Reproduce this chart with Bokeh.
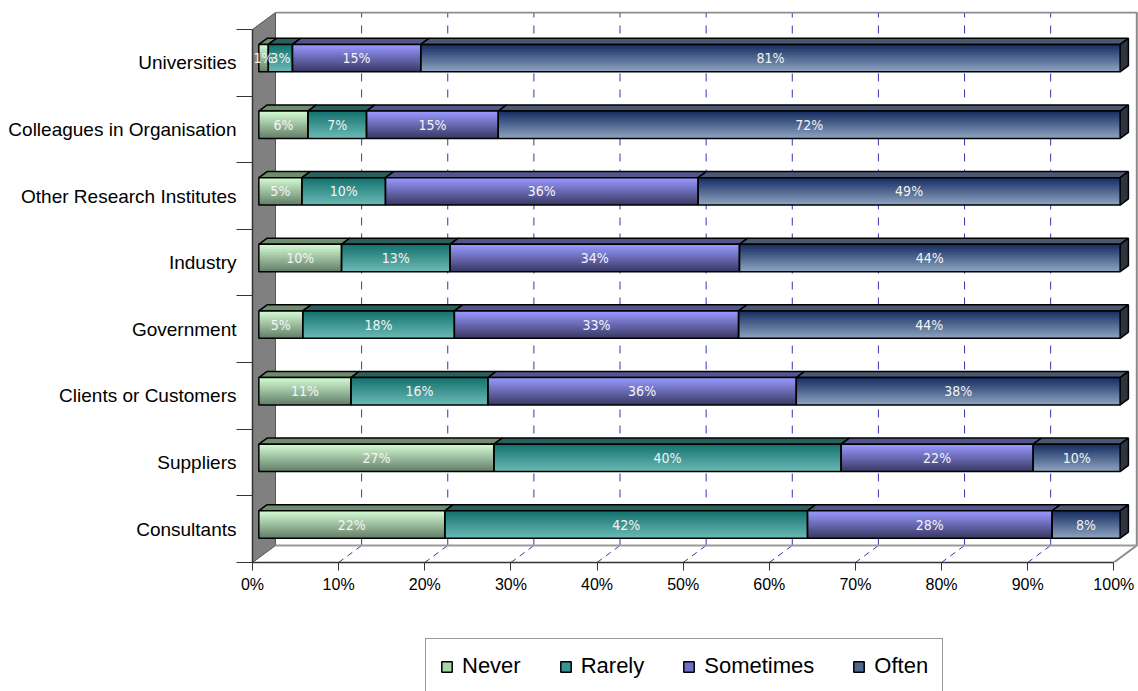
import numpy as np
from bokeh.plotting import figure
from bokeh.layouts import column
from bokeh.models import (Range1d, FixedTicker, PrintfTickFormatter, Legend,
                          LegendItem, ColumnDataSource)
from bokeh.core.properties import value
from bokeh.embed import file_html
from bokeh.resources import INLINE

# ---------------- data ----------------
categories = ["Consultants", "Suppliers", "Clients or Customers", "Government",
              "Industry", "Other Research Institutes",
              "Colleagues in Organisation", "Universities"]
series_names = ["Never", "Rarely", "Sometimes", "Often"]
never = [21.6, 27.3, 10.7, 5.1, 9.6, 5.0, 5.7, 1.1]
rarely = [42.1, 40.3, 15.9, 17.6, 12.6, 9.7, 6.8, 2.8]
sometimes = [28.4, 22.3, 35.8, 33.0, 33.6, 36.3, 15.3, 14.9]
often = [7.9, 10.1, 37.6, 44.3, 44.2, 49.0, 72.2, 81.2]
x_ticks = [0, 10, 20, 30, 40, 50, 60, 70, 80, 90, 100]

# ---------------- style ----------------
# (front gradient top, front gradient bottom, top face, legend swatch)
styles = [
    ("#d2fad2", "#66806a", "#6e8c6e", "#a8d8a8"),
    ("#15736f", "#6ab8b4", "#2b5f5c", "#3a9591"),
    ("#9898ff", "#3a3a66", "#55558e", "#7070c8"),
    ("#172f63", "#8ca2be", "#4a5872", "#4f6890"),
]
side_cap = "#2c3440"
BAR_FONT = "DejaVu Sans Condensed, Liberation Sans, sans-serif"

PX = 8.613   # px per percent
PY = 66.63   # px per category band
DX = 23 / PX     # depth offset (percent units)
DY = 17 / PY     # depth offset (band units)
DF, DB = 0.275, 0.635   # bar front / back depth fraction
BH = 0.411              # bar front height in bands
N = 18                  # gradient strips

FW, FH = 886, 551
p = figure(frame_width=FW, frame_height=FH,
           x_range=Range1d(0, FW / PX), y_range=Range1d(0, FH / PY),
           min_border_left=252, min_border_right=0, min_border_top=11,
           min_border_bottom=40, output_backend="svg", toolbar_location=None,
           background_fill_color="white", border_fill_color="white")
p.outline_line_color = None
p.grid.visible = False

ncat = len(categories)

# side wall
p.patch([0, DX, DX, 0], [0, DY, ncat + DY, ncat], fill_color="#808080",
        line_color="#555555", line_width=1)

# back-wall grid lines and floor grid lines
gx = [v for v in x_ticks if 0 < v < 100]
p.segment(x0=[v + DX for v in gx], y0=[DY] * len(gx),
          x1=[v + DX for v in gx], y1=[ncat + DY] * len(gx),
          line_color="#3434b0", line_width=1, line_dash="8 8")
p.segment(x0=gx, y0=[0] * len(gx), x1=[v + DX for v in gx], y1=[DY] * len(gx),
          line_color="#3434b0", line_width=1, line_dash="6 5")

# wall edges
p.line([DX, 100 + DX, 100 + DX, 100], [ncat + DY, ncat + DY, DY, 0],
       line_color="#8c8c8c", line_width=2)
p.line([DX, 100 + DX], [DY, DY], line_color="#9a9a9a", line_width=2)


def mix(c1, c2, t):
    a = [int(c1[i:i + 2], 16) for i in (1, 3, 5)]
    b = [int(c2[i:i + 2], 16) for i in (1, 3, 5)]
    return "#%02x%02x%02x" % tuple(int(round(a[j] + (b[j] - a[j]) * t)) for j in range(3))


values = [never, rarely, sometimes, often]
ddx = (DB - DF) * DX
ddy = (DB - DF) * DY

strips = dict(left=[], right=[], top=[], bottom=[], color=[])
outl = dict(left=[], right=[], top=[], bottom=[])
tops = dict(xs=[], ys=[], color=[])
caps = dict(xs=[], ys=[])
labs = dict(x=[], y=[], text=[])

for k in range(ncat):
    cum = 0.0
    yc = k + 0.5 + DF * DY
    yt, yb = yc + BH / 2, yc - BH / 2
    for s in range(4):
        v = values[s][k]
        L = cum + DF * DX
        R = cum + v + DF * DX
        c_top, c_bot, c_face, _ = styles[s]
        for i in range(N):
            strips["left"].append(L)
            strips["right"].append(R)
            strips["top"].append(yt - i * BH / N)
            strips["bottom"].append(yb)
            strips["color"].append(mix(c_top, c_bot, i / (N - 1)))
        outl["left"].append(L)
        outl["right"].append(R)
        outl["top"].append(yt)
        outl["bottom"].append(yb)
        tops["xs"].append([L, R, R + ddx, L + ddx])
        tops["ys"].append([yt, yt, yt + ddy, yt + ddy])
        tops["color"].append(c_face)
        labs["x"].append((L + R) / 2)
        labs["y"].append(yc)
        labs["text"].append("%d%%" % int(round(v)))
        cum += v
    caps["xs"].append([R, R + ddx, R + ddx, R])
    caps["ys"].append([yb, yb + ddy, yt + ddy, yt])

p.patches("xs", "ys", source=ColumnDataSource(tops), fill_color="color",
          line_color="black", line_width=1.5)
p.patches("xs", "ys", source=ColumnDataSource(caps), fill_color=side_cap,
          line_color="black", line_width=1.5)
p.quad(left="left", right="right", top="top", bottom="bottom",
       source=ColumnDataSource(strips), fill_color="color", line_color=None)
p.quad(left="left", right="right", top="top", bottom="bottom",
       source=ColumnDataSource(outl), fill_color=None, line_color="black",
       line_width=1.5)
p.text(x="x", y="y", text="text", source=ColumnDataSource(labs),
       text_color="#f4f4f4", text_align="center", text_baseline="middle",
       text_font=value(BAR_FONT), text_font_size="14px")

# ---------------- axes ----------------
xa = p.xaxis[0]
xa.ticker = FixedTicker(ticks=x_ticks)
xa.formatter = PrintfTickFormatter(format="%d%%")
xa.bounds = (0, 100)
xa.axis_line_color = "#333333"
xa.axis_line_width = 1.5
xa.major_tick_line_color = "#333333"
xa.major_tick_out = 8
xa.major_tick_in = 0
xa.minor_tick_line_color = None
xa.major_label_standoff = 5
xa.major_label_text_font = "Liberation Sans"
xa.major_label_text_font_size = "16px"
xa.major_label_text_color = "black"

ya = p.yaxis[0]
centers = [k + 0.5 for k in range(ncat)]
ya.ticker = FixedTicker(ticks=centers, minor_ticks=list(range(ncat + 1)))
ya.major_label_overrides = {c: n for c, n in zip(centers, categories)}
ya.bounds = (0, ncat)
ya.axis_line_color = "#333333"
ya.axis_line_width = 1.5
ya.major_tick_line_color = None
ya.major_tick_out = 0
ya.major_tick_in = 0
ya.minor_tick_line_color = "#333333"
ya.minor_tick_out = 16
ya.minor_tick_in = 0
ya.major_label_standoff = 0
ya.major_label_text_font = "Liberation Sans"
ya.major_label_text_font_size = "19px"
ya.major_label_text_color = "black"

# ---------------- legend strip (second figure below) ----------------
LH = 89
q = figure(width=1138, height=LH, x_range=Range1d(0, 1), y_range=Range1d(0, 1),
           x_axis_type=None, y_axis_type=None, output_backend="svg",
           toolbar_location=None, min_border=0, min_border_left=0,
           min_border_right=0, min_border_top=0, min_border_bottom=0)
q.outline_line_color = None
q.grid.visible = False
items = []
for s, name in enumerate(series_names):
    r = q.quad(left=[0], right=[0], top=[0], bottom=[0],
               fill_color=styles[s][3], line_color="black", line_width=1.5)
    r.visible = False
    items.append(LegendItem(label=name, renderers=[r]))
legend = Legend(items=items, orientation="horizontal", location=(173, -3),
                label_text_font="Liberation Sans", label_text_font_size="22px",
                label_text_color="black", glyph_width=13, glyph_height=13,
                label_standoff=9, spacing=38, padding=14, margin=0,
                border_line_color="#333333", border_line_width=1,
                background_fill_color="white", background_fill_alpha=1,
                inactive_fill_alpha=0)
q.add_layout(legend)

layout = column(p, q, spacing=0)
open("out.html", "w").write(file_html(layout, INLINE))
